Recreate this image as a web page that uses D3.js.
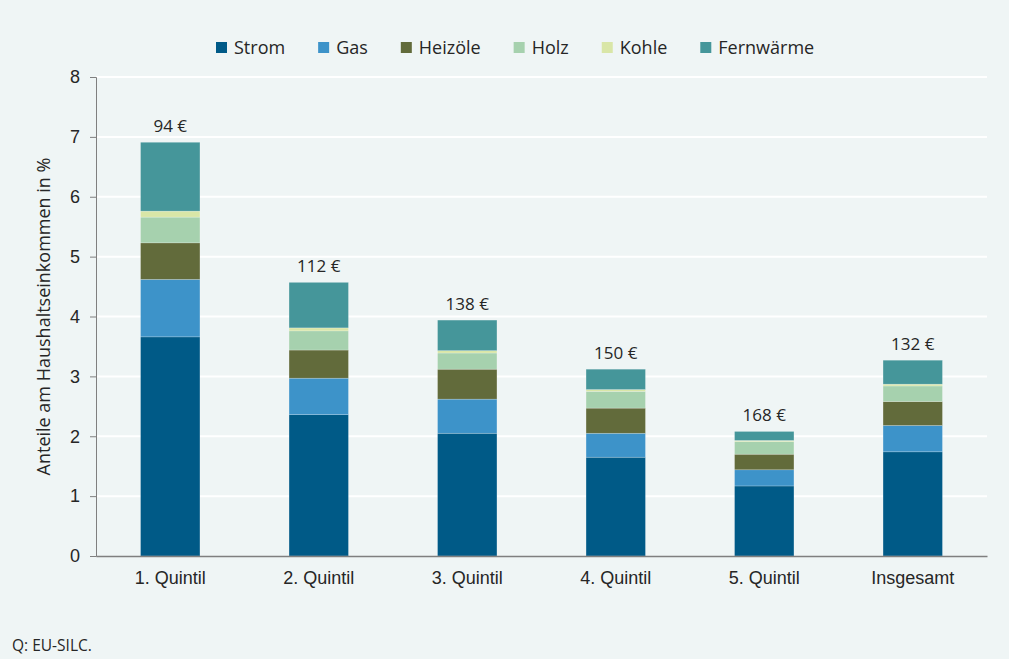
<!DOCTYPE html>
<html lang="de">
<head>
  <meta charset="UTF-8">
  <title>Energieausgaben nach Quintilen</title>
  <script src="https://d3js.org/d3.v7.min.js"></script>
  <style>
    body { margin:0; overflow:hidden; background:#eff5f5; }
    svg { display:block; font-family: "Open Sans", "DejaVu Sans", sans-serif; }
    .tick text { fill:#262626; font-size:18px; }
  </style>
</head>
<body>
<svg width="1009" height="659"></svg>
<script>
// Daten
const categories = ['1. Quintil', '2. Quintil', '3. Quintil', '4. Quintil', '5. Quintil', 'Insgesamt'];
const series = ['Strom', 'Gas', 'Heizöle', 'Holz', 'Kohle', 'Fernwärme'];
const strom     = [3.66, 2.36, 2.05, 1.65, 1.17, 1.74];
const gas       = [0.96, 0.61, 0.57, 0.40, 0.27, 0.44];
const heizoele  = [0.61, 0.47, 0.50, 0.42, 0.26, 0.40];
const holz      = [0.43, 0.32, 0.27, 0.28, 0.21, 0.26];
const kohle     = [0.10, 0.05, 0.04, 0.03, 0.02, 0.03];
const fernwaerme= [1.15, 0.76, 0.51, 0.34, 0.15, 0.40];
const euroLabels = ['94 €', '112 €', '138 €', '150 €', '168 €', '132 €'];
const yTicks = [0, 1, 2, 3, 4, 5, 6, 7, 8];

const colors = ['#005a87', '#3d93c9', '#626b3b', '#a6d1ae', '#d9e6a7', '#45969a'];

const values = [strom, gas, heizoele, holz, kohle, fernwaerme];
const rows = categories.map((c, i) => {
  const r = { cat: c, label: euroLabels[i] };
  series.forEach((s, j) => r[s] = values[j][i]);
  return r;
});

const svg = d3.select('svg');
const margin = { left: 96, right: 22, top: 77, bottom: 103 };
const W = 1009, H = 659;

const x = d3.scaleBand()
  .domain(categories)
  .range([margin.left, W - margin.right])
  .paddingInner(0.6)
  .paddingOuter(0.3);

const y = d3.scaleLinear()
  .domain([0, 8])
  .range([H - margin.bottom, margin.top]);

// Gitterlinien
svg.append('g')
  .selectAll('line')
  .data(yTicks.slice(1))
  .join('line')
  .attr('x1', margin.left)
  .attr('x2', W - margin.right)
  .attr('y1', d => y(d))
  .attr('y2', d => y(d))
  .attr('stroke', '#ffffff')
  .attr('stroke-width', 2);

// gestapelte Balken
const stack = d3.stack().keys(series);
const layers = stack(rows);

svg.append('g')
  .selectAll('g')
  .data(layers)
  .join('g')
  .attr('fill', (d, i) => colors[i])
  .selectAll('rect')
  .data(d => d)
  .join('rect')
  .attr('x', d => x(d.data.cat))
  .attr('width', x.bandwidth())
  .attr('y', d => y(d[1]))
  .attr('height', d => y(d[0]) - y(d[1]))
  .attr('stroke', 'rgba(255,255,255,0.35)')
  .attr('stroke-width', 0.6);

// Beschriftung über den Balken
svg.append('g')
  .selectAll('text')
  .data(layers[layers.length - 1])
  .join('text')
  .attr('x', d => x(d.data.cat) + x.bandwidth() / 2)
  .attr('y', d => y(d[1]) - 10)
  .attr('text-anchor', 'middle')
  .attr('fill', '#262626')
  .style('font-size', '17px')
  .text(d => d.data.label);

// Achsen
const yAxis = svg.append('g')
  .attr('transform', `translate(${margin.left},0)`)
  .call(d3.axisLeft(y).tickValues(yTicks).tickSize(6).tickPadding(10));
yAxis.select('.domain').attr('stroke', '#7f7f7f');
yAxis.selectAll('.tick line').attr('stroke', '#7f7f7f');

const xAxis = svg.append('g')
  .attr('transform', `translate(0,${y(0)})`)
  .call(d3.axisBottom(x).tickSize(0).tickPadding(15).tickSizeOuter(0));
xAxis.select('.domain').attr('stroke', '#7f7f7f').attr('stroke-width', 1.5);

svg.append('text')
  .attr('transform', `translate(50,${(y(0) + y(8)) / 2}) rotate(-90)`)
  .attr('text-anchor', 'middle')
  .attr('fill', '#262626')
  .style('font-size', '18px')
  .text('Anteile am Haushaltseinkommen in %');

// Legende
const legend = svg.append('g').attr('transform', 'translate(216,48)');
let lx = 0;
series.forEach((s, i) => {
  const g = legend.append('g').attr('transform', `translate(${lx},0)`);
  g.append('rect').attr('x', 0).attr('y', -6).attr('width', 11).attr('height', 11).attr('fill', colors[i]);
  const t = g.append('text').attr('x', 18).attr('y', 0).attr('dy', '0.35em')
    .attr('fill', '#262626').style('font-size', '18px').text(s);
  lx += 18 + t.node().getComputedTextLength() + 33;
});

// Quelle
svg.append('text')
  .attr('x', 12)
  .attr('y', 651)
  .attr('fill', '#262626')
  .style('font-size', '15.5px')
  .text('Q: EU-SILC.');
</script>
</body>
</html>
